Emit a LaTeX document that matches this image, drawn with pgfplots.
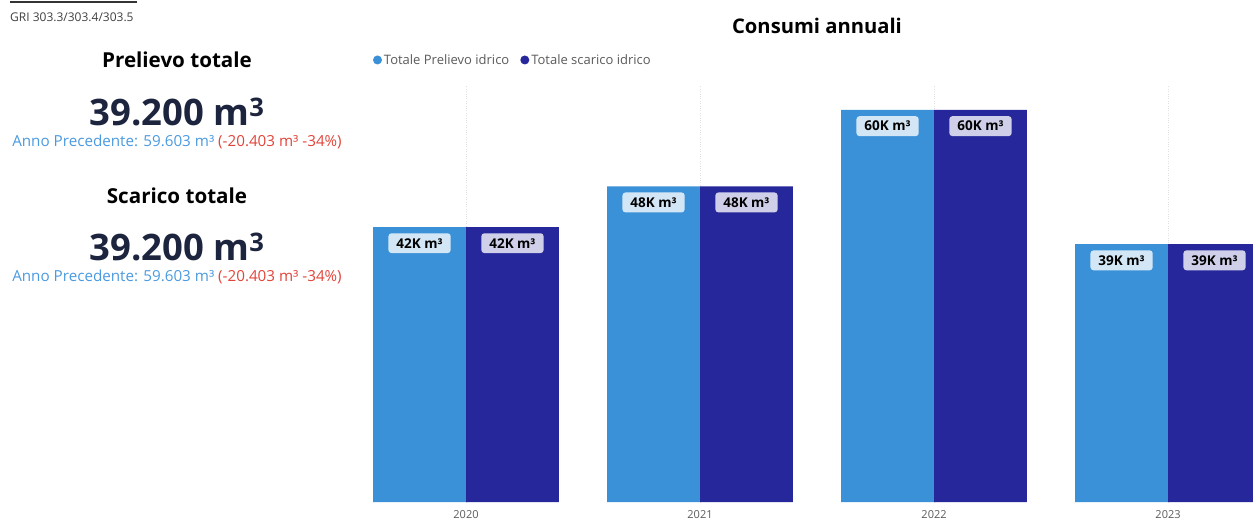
\documentclass[border=0pt]{standalone}
\usepackage{fontspec}
\setmainfont{Open Sans}
\usepackage{pgfplots}
\pgfplotsset{compat=1.18}
\definecolor{lightbar}{RGB}{58,145,215}
\definecolor{darkbar}{RGB}{38,39,155}
\definecolor{bignum}{RGB}{28,36,62}
\definecolor{annoblue}{RGB}{74,154,224}
\definecolor{annored}{RGB}{225,68,58}
\definecolor{ticktext}{RGB}{90,90,90}
\begin{document}
\begin{tikzpicture}[x=1pt,y=1pt]
\useasboundingbox (0,0) rectangle (1253,520);
\draw[line width=2pt, black!80] (10,518) -- (137,518);
\node[anchor=west, font=\fontsize{12}{13}\selectfont, text=black!75, inner sep=0pt] at (10,503) {GRI 303.3/303.4/303.5};
\node[font=\fontsize{20.6}{24}\selectfont\bfseries] at (177,460) {Prelievo totale};
\node[font=\fontsize{36.5}{40}\selectfont\bfseries, text=bignum] at (177,408) {39.200 m\textsuperscript{3}};
\node[font=\fontsize{15.2}{17}\selectfont] at (177,378) {\textcolor{annoblue}{Anno Precedente: 59.603 m³} \textcolor{annored}{(-20.403 m³ -34\%)}};
\node[font=\fontsize{20.6}{24}\selectfont\bfseries] at (177,324) {Scarico totale};
\node[font=\fontsize{36.5}{40}\selectfont\bfseries, text=bignum] at (177,273) {39.200 m\textsuperscript{3}};
\node[font=\fontsize{15.2}{17}\selectfont] at (177,243) {\textcolor{annoblue}{Anno Precedente: 59.603 m³} \textcolor{annored}{(-20.403 m³ -34\%)}};
\node[font=\fontsize{20.2}{24}\selectfont\bfseries] at (817,494) {Consumi annuali};
\begin{axis}[
  at={(349pt,18pt)}, anchor=south west,
  scale only axis, width=904pt, height=417pt,
  xmin=-0.5, xmax=3.363, ymin=0, ymax=63.4,
  axis line style={draw=none},
  ytick=\empty,
  xtick={0,1,2,3}, xticklabels={2020,2021,2022,2023},
  major tick length=0pt,
  xticklabel style={font=\fontsize{11}{12}\selectfont, text=ticktext, inner sep=1pt, yshift=-7pt},
  xmajorgrids, grid style={black!12, dotted},
  ybar, bar width=0.397,
  nodes near coords={\pgfmathprintnumber[fixed,precision=0,assume math mode=true]{\pgfplotspointmeta}K m³},
  every node near coord/.append style={anchor=north, yshift=-6pt, font=\fontsize{13.5}{15}\selectfont\bfseries, text=black, fill=white, fill opacity=0.78, text opacity=1, rounded corners=3pt, inner xsep=8pt, inner ysep=5pt},
  legend style={at={(0.023,1.06)}, anchor=west, draw=none, fill=none, legend columns=2, font=\fontsize{13}{15}\selectfont, text=ticktext, /tikz/every even column/.append style={column sep=9pt}},
  legend image code/.code={\fill[#1, draw=none] (2pt,0pt) circle (4.5pt);},
]
\addplot[fill=lightbar, draw=none, bar shift=-0.1985] coordinates {(0,41.8) (1,48.0) (2,59.6) (3,39.2)};
\addplot[fill=darkbar, draw=none, bar shift=0.1985] coordinates {(0,41.8) (1,48.0) (2,59.6) (3,39.2)};
\legend{Totale Prelievo idrico, Totale scarico idrico}
\end{axis}
\end{tikzpicture}
\end{document}
